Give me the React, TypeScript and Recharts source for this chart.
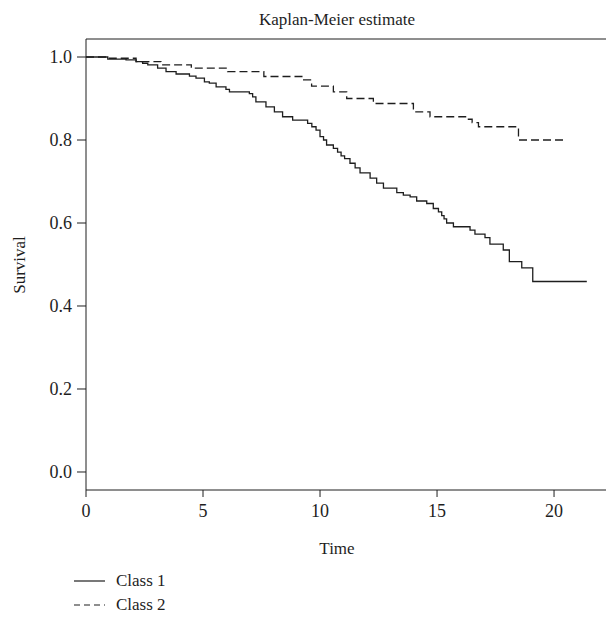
import { LineChart, Line, XAxis, YAxis, ReferenceLine } from "recharts";

const class1Time = [
  0, 0.93, 1.71, 2.14, 2.42, 2.64, 3.06, 3.42, 3.85, 4.42, 4.7, 5.06, 5.27, 5.56, 5.98, 6.13, 6.98,
  7.12, 7.26, 7.69, 8.05, 8.4, 8.83, 9.47, 9.65, 9.83, 10.0, 10.15, 10.28, 10.57, 10.75, 10.9, 11.05,
  11.28, 11.5, 11.71, 12.14, 12.42, 12.71, 13.28, 13.56, 13.85, 14.13, 14.56, 14.84, 15.06, 15.2,
  15.3, 15.41, 15.7, 16.41, 16.62, 17.05, 17.26, 17.83, 18.09, 18.62, 19.09, 21.4,
];
const class1Surv = [
  1.0, 0.995, 0.993, 0.989, 0.985, 0.981, 0.973, 0.965, 0.959, 0.954, 0.949, 0.94, 0.937, 0.928,
  0.922, 0.916, 0.912, 0.904, 0.892, 0.88, 0.868, 0.856, 0.848, 0.84, 0.832, 0.824, 0.808, 0.8,
  0.788, 0.78, 0.771, 0.762, 0.755, 0.744, 0.733, 0.721, 0.708, 0.696, 0.684, 0.673, 0.667, 0.663,
  0.653, 0.647, 0.635, 0.627, 0.618, 0.61, 0.6, 0.591, 0.583, 0.573, 0.565, 0.549, 0.535, 0.507,
  0.492, 0.459, 0.459,
];

const class2Time = [
  0, 1.0, 2.14, 3.2, 4.5, 6.05, 7.6, 9.3, 9.64, 10.57, 11.14, 12.28, 13.99, 14.7, 16.27, 16.5,
  16.77, 18.48, 20.4,
];
const class2Surv = [
  1.0, 0.997, 0.989, 0.981, 0.973, 0.965, 0.953, 0.945, 0.93, 0.916, 0.9, 0.888, 0.868, 0.856,
  0.85, 0.842, 0.832, 0.8, 0.8,
];

const xTicks = [0, 5, 10, 15, 20];
const yTicks = [0, 0.2, 0.4, 0.6, 0.8, 1.0];
const legendLabels = ["Class 1", "Class 2"];

const class1 = class1Time.map((t, i) => ({ t, s: class1Surv[i] }));
const class2 = class2Time.map((t, i) => ({ t, s: class2Surv[i] }));

const FONT = "'Liberation Serif', 'DejaVu Serif', serif";
const INK = "#1e1e1e";
const Y_MIN = -0.0434;
const Y_MAX = 1.0434;
const tickStyle = { fill: INK, fontSize: 18, fontFamily: FONT };

export default function App() {
  return (
    <div style={{ position: "absolute", left: 0, top: 0, width: 606, height: 622, background: "#fff" }}>
      <LineChart width={606} height={622} margin={{ top: 39, right: 0, bottom: 102, left: 0 }}>
        <XAxis
          dataKey="t"
          type="number"
          domain={[0, 22.22]}
          ticks={xTicks}
          allowDataOverflow
          height={30}
          tickSize={7}
          tickMargin={7}
          stroke={INK}
          tick={tickStyle}
        />
        <YAxis
          type="number"
          domain={[Y_MIN, Y_MAX]}
          ticks={yTicks}
          allowDataOverflow
          width={86}
          tickSize={9}
          tickMargin={5}
          stroke={INK}
          tick={tickStyle}
          tickFormatter={(v: number) => v.toFixed(1)}
        />
        <ReferenceLine y={Y_MAX} stroke={INK} />
        <Line
          data={class1}
          dataKey="s"
          type="stepAfter"
          stroke={INK}
          strokeWidth={1.3}
          dot={false}
          isAnimationActive={false}
        />
        <Line
          data={class2}
          dataKey="s"
          type="stepAfter"
          stroke={INK}
          strokeWidth={1.3}
          strokeDasharray="8 4"
          dot={false}
          isAnimationActive={false}
        />
        <g fontFamily={FONT} fill={INK} fontSize={17}>
          <text x={337} y={25} textAnchor="middle">Kaplan-Meier estimate</text>
          <text x={337} y={554} textAnchor="middle">Time</text>
          <text x={25} y={265} textAnchor="middle" transform="rotate(-90 25 265)">Survival</text>
          {legendLabels.map((label, i) => (
            <g key={label}>
              <line
                x1={74}
                x2={105}
                y1={581 + i * 24}
                y2={581 + i * 24}
                stroke={INK}
                strokeWidth={1.2}
                strokeDasharray={i === 1 ? "6 4" : undefined}
              />
              <text x={116} y={586 + i * 24}>{label}</text>
            </g>
          ))}
        </g>
      </LineChart>
    </div>
  );
}
